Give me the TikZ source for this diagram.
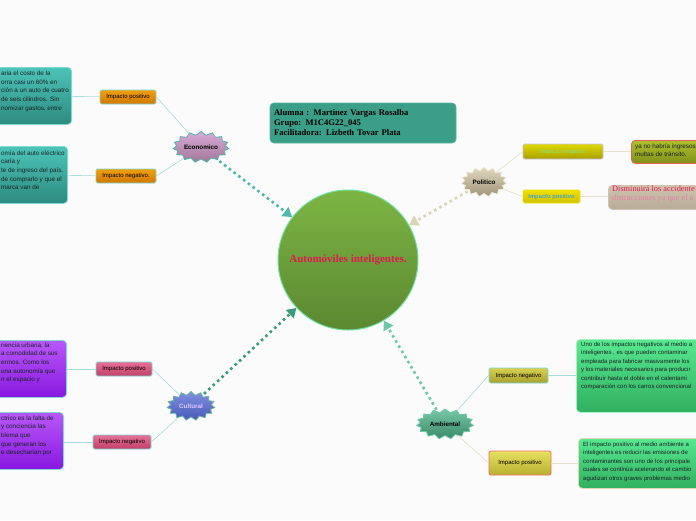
\documentclass[tikz,border=0pt]{standalone}
\usepackage{fontspec}
\setmainfont{Liberation Sans}
\newfontfamily\titlefont{Liberation Serif}
\usepackage{xcolor}
\usepackage{tikz}
\usetikzlibrary{shapes.symbols, arrows.meta, calc}
\definecolor{bgcol}{RGB}{251,251,251}
\definecolor{textdark}{RGB}{25,35,35}
\definecolor{titlered}{RGB}{224,25,78}
\definecolor{circtop}{RGB}{125,181,68}
\definecolor{circbot}{RGB}{90,136,48}
\definecolor{circline}{RGB}{110,224,160}
\definecolor{infofill}{RGB}{58,158,136}
\definecolor{tealtop}{RGB}{76,196,184}
\definecolor{tealbot}{RGB}{46,138,128}
\definecolor{tealline}{RGB}{128,216,208}
\definecolor{orangetop}{RGB}{240,160,16}
\definecolor{orangebot}{RGB}{208,120,0}
\definecolor{econtop}{RGB}{220,170,216}
\definecolor{econbot}{RGB}{160,120,152}
\definecolor{cultop}{RGB}{128,144,224}
\definecolor{culbot}{RGB}{72,88,184}
\definecolor{cultext}{RGB}{224,200,255}
\definecolor{pinktop}{RGB}{232,112,152}
\definecolor{pinkbot}{RGB}{192,64,104}
\definecolor{purptop}{RGB}{184,88,248}
\definecolor{purpbot}{RGB}{136,24,224}
\definecolor{ambtop}{RGB}{120,200,168}
\definecolor{ambbot}{RGB}{58,138,106}
\definecolor{olivetop}{RGB}{216,208,80}
\definecolor{olivebot}{RGB}{168,160,48}
\definecolor{yeltop}{RGB}{232,224,96}
\definecolor{yelbot}{RGB}{184,176,48}
\definecolor{salmon}{RGB}{240,112,96}
\definecolor{greentop}{RGB}{88,232,144}
\definecolor{greenbot}{RGB}{48,176,96}
\definecolor{greenline}{RGB}{168,240,192}
\definecolor{beigeline}{RGB}{224,216,176}
\definecolor{poltop}{RGB}{224,216,192}
\definecolor{polbot}{RGB}{160,148,120}
\definecolor{polline}{RGB}{240,236,216}
\definecolor{lemontop}{RGB}{224,216,0}
\definecolor{lemonbot}{RGB}{168,160,0}
\definecolor{lavender}{RGB}{200,192,232}
\definecolor{mintext}{RGB}{128,224,128}
\definecolor{sunnytop}{RGB}{240,224,0}
\definecolor{sunnybot}{RGB}{208,192,0}
\definecolor{skytext}{RGB}{64,168,200}
\definecolor{mosstop}{RGB}{176,192,48}
\definecolor{mossbot}{RGB}{128,144,24}
\definecolor{redline}{RGB}{232,96,80}
\definecolor{sandtop}{RGB}{208,196,176}
\definecolor{sandbot}{RGB}{184,172,152}
\definecolor{pinktext}{RGB}{232,128,168}
\definecolor{econdot}{RGB}{79,184,168}
\definecolor{poldot}{RGB}{216,212,180}
\definecolor{culdot}{RGB}{58,154,124}
\definecolor{ambdot}{RGB}{108,200,168}
\definecolor{linkteal}{RGB}{168,220,216}
\definecolor{linkbeige}{RGB}{228,224,206}

\begin{document}
\begin{tikzpicture}[x=1pt, y=-1pt,
    burst/.style={starburst, starburst points=15, starburst point height=3.5pt, random starburst=0,
      inner sep=0pt, line width=0.8pt, font=\fontsize{6.3}{7}\selectfont\bfseries},
    impact/.style={rectangle, rounded corners=1.5pt, minimum height=14pt, inner sep=1pt,
      line width=0.8pt, font=\fontsize{6}{7}\selectfont},
    card/.style={rectangle, rounded corners=4pt, line width=0.8pt},
    bodytext/.style={align=left, inner sep=0pt, text=textdark, font=\fontsize{6.3}{8.6}\selectfont},
    link/.style={line width=0.6pt},
    mainlink/.style={line width=2.6pt, dash pattern=on 2.6pt off 3.4pt, shorten <=2pt,
      -{Triangle[length=9pt,width=11pt]}}
]
\useasboundingbox (0,0) rectangle (696,520);
\fill[bgcol] (0,0) rectangle (696,520);
\clip (0,0) rectangle (696,520);

% centre
\node[circle, minimum size=140pt, inner sep=0pt, top color=circtop, bottom color=circbot,
  draw=circline, line width=1pt, text=titlered, font=\titlefont\fontsize{11}{12}\selectfont\bfseries]
  (centre) at (348,260) {Automóviles inteligentes.};

% info
\node[card, fill=infofill, draw=infofill!80!white, minimum width=186pt, minimum height=40pt,
  text width=178pt, align=left, font=\titlefont\fontsize{8.6}{10}\selectfont\bfseries]
  (info) at (363,123) {Alumna : Martinez Vargas Rosalba\\Grupo: M1C4G22\_045\\Facilitadora: Lizbeth Tovar Plata};

% economico
\node[burst, minimum width=56pt, minimum height=31pt, top color=econtop, bottom color=econbot,
  draw=econdot] (econ) at (201,147) {Economico};
\node[impact, minimum width=56pt, top color=orangetop, bottom color=orangebot, draw=tealline]
  (econpos) at (128,97) {Impacto positivo};
\node[impact, minimum width=60pt, top color=orangetop, bottom color=orangebot, draw=tealline]
  (econneg) at (126,176) {Impacto negativo.};
\node[card, minimum width=100pt, minimum height=57pt, anchor=north east, top color=tealtop,
  bottom color=tealbot, draw=tealline] (econposbox) at (72,67) {};
\node[bodytext, anchor=north west] (econpostxt) at (1,71)
  {aria el costo de la\\orra casi un 60\% en\\ción a un auto de cuatro\\de seis cilindros. Sin\\nomizar gastos, entre};
\node[card, minimum width=100pt, minimum height=57pt, anchor=north east, top color=tealtop,
  bottom color=tealbot, draw=tealline] (econnegbox) at (68,146) {};
\node[bodytext, anchor=north west] (econnegtxt) at (1,150.5)
  {omía del auto eléctrico\\caría y\\te de ingreso del país.\\de comprarlo y que el\\marca van de};

% politico
\node[burst, minimum width=46pt, minimum height=30pt, top color=poltop, bottom color=polbot,
  draw=polline] (pol) at (484,182) {Politico};
\node[impact, minimum width=80pt, minimum height=15pt, top color=lemontop, bottom color=lemonbot,
  draw=lavender, text=mintext] (polneg) at (563,151.5) {Impacto negativo};
\node[impact, minimum width=57pt, minimum height=13pt, top color=sunnytop, bottom color=sunnybot,
  draw=sunnytop, text=skytext, font=\fontsize{5.8}{6.5}\selectfont\bfseries] (polpos) at (551.5,196.5) {Impacto positivo};
\node[card, minimum width=80pt, minimum height=23pt, anchor=north west, top color=mosstop,
  bottom color=mossbot, draw=redline] (polnegbox) at (631,140) {};
\node[bodytext, anchor=north west, font=\fontsize{6.3}{8}\selectfont] (polnegtxt) at (635,144)
  {ya no habría ingresos\\multas de tránsito.};
\node[card, minimum width=100pt, minimum height=24pt, anchor=north west, top color=sandtop,
  bottom color=sandbot, draw=sandtop] (polposbox) at (608,185) {};
\node[bodytext, anchor=north west, font=\titlefont\fontsize{8.3}{8.5}\selectfont] (polpostxt) at (612,186)
  {\textcolor{titlered}{Disminuirá los accidente}\\\textcolor{pinktext}{distracciones ya que el a}};

% cultural
\node[burst, minimum width=48pt, minimum height=29pt, top color=cultop, bottom color=culbot,
  draw=culdot!70!white, text=cultext] (cul) at (191,406) {Cultural};
\node[impact, minimum width=56pt, top color=pinktop, bottom color=pinkbot, draw=tealline]
  (culpos) at (124,369) {Impacto positivo};
\node[impact, minimum width=58pt, top color=pinktop, bottom color=pinkbot, draw=tealline]
  (culneg) at (122,442) {Impacto negativo};
\node[card, minimum width=100pt, minimum height=57pt, anchor=north east, top color=purptop,
  bottom color=purpbot, draw=tealline] (culposbox) at (67,340) {};
\node[bodytext, anchor=north west] (culpostxt) at (1,342.5)
  {riencia urbana, la\\a comodidad de sus\\ermos. Como los\\una autonomía que\\n el espacio y};
\node[card, minimum width=100pt, minimum height=57pt, anchor=north east, top color=purptop,
  bottom color=purpbot, draw=tealline] (culnegbox) at (64,412) {};
\node[bodytext, anchor=north west] (culnegtxt) at (1,415.5)
  {ctrico es la falta de\\y conciencia las\\blema que\\que generan los\\e desecharían por};

% ambiental
\node[burst, minimum width=57pt, minimum height=30pt, top color=ambtop, bottom color=ambbot,
  draw=ambdot] (amb) at (445,424) {Ambiental};
\node[impact, minimum width=59pt, minimum height=15pt, top color=olivetop, bottom color=olivebot,
  draw=tealline] (ambneg) at (518.5,375.5) {Impacto negativo};
\node[impact, minimum width=62pt, minimum height=24pt, top color=yeltop, bottom color=yelbot,
  draw=salmon] (ambpos) at (520,463) {Impacto positivo};
\node[card, minimum width=140pt, minimum height=73pt, anchor=north west, top color=greentop,
  bottom color=greenbot, draw=greenline] (ambnegbox) at (576,339) {};
\node[bodytext, anchor=north west, font=\fontsize{6}{8.4}\selectfont] (ambnegtxt) at (581,342)
  {Uno de los impactos negativos al medio a\\inteligentes , es que pueden contaminar\\empleada para fabricar masivamente los\\y los materiales necesarios para producir\\contribuir hasta el doble en el calentami\\comparación con los carros convencional};
\node[card, minimum width=140pt, minimum height=50pt, anchor=north west, top color=greentop,
  bottom color=greenbot, draw=beigeline] (ambposbox) at (578,438) {};
\node[bodytext, anchor=north west, font=\fontsize{6}{8.6}\selectfont] (ambpostxt) at (583,441.5)
  {El impacto positivo al medio ambiente a\\inteligentes es reducir las emisiones de\\contaminantes son uno de los principale\\cuales se continúa acelerando el cambio\\agudizan otros graves problemas medio};

% main links
\draw[mainlink, econdot] (econ) -- (centre);
\draw[mainlink, poldot] (pol) -- (centre);
\draw[mainlink, culdot] (cul) -- (centre);
\draw[mainlink, ambdot] (amb) -- (centre);

% branch links
\draw[link, linkteal] (econ) -- (econpos.east);
\draw[link, linkteal] (econ) -- (econneg.east);
\draw[link, linkteal] (econpos) -- (econposbox);
\draw[link, linkteal] (econneg) -- (econnegbox);
\draw[link, linkbeige] (pol) -- (polneg.west);
\draw[link, linkbeige] (pol) -- (polpos.west);
\draw[link, linkbeige] (polneg) -- (polnegbox.west |- polneg);
\draw[link, linkbeige] (polpos) -- (polposbox.west |- polpos);
\draw[link, linkteal] (cul) -- (culpos.east);
\draw[link, linkteal] (cul) -- (culneg.east);
\draw[link, linkteal] (culpos) -- (culposbox.east |- culpos);
\draw[link, linkteal] (culneg) -- (culnegbox.east |- culneg);
\draw[link, linkteal] (amb) -- (ambneg.west);
\draw[link, linkbeige] (amb) -- (ambpos.west);
\draw[link, linkteal] (ambneg) -- (ambnegbox.west |- ambneg);
\draw[link, linkbeige] (ambpos) -- (ambposbox.west |- ambpos);

\end{tikzpicture}
\end{document}
